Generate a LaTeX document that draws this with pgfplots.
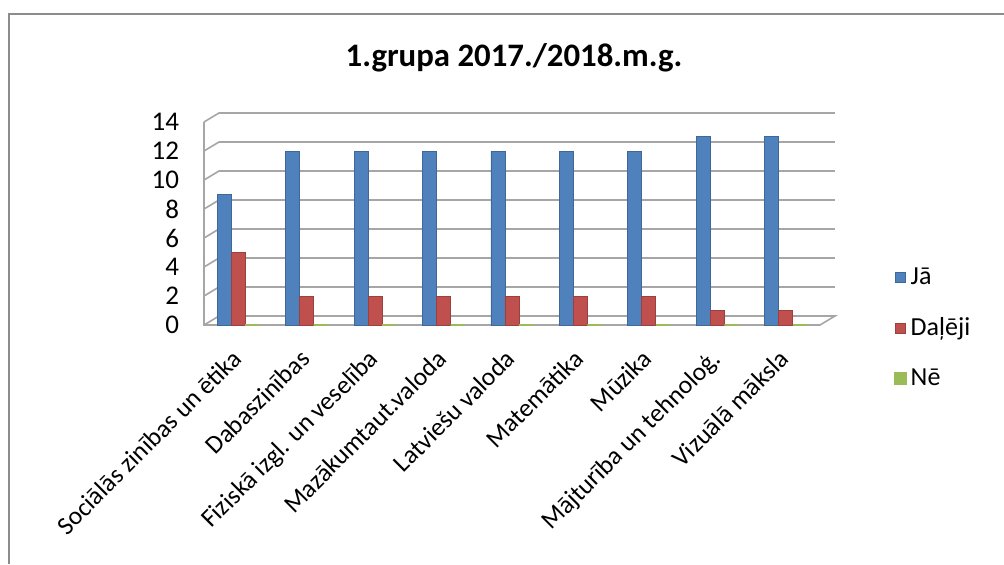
\documentclass[border=0pt]{standalone}
\usepackage{pgfplots}
\pgfplotsset{compat=1.18}
\usepackage{fontspec}
\setmainfont{Carlito}
\definecolor{ja}{HTML}{4F81BD}
\definecolor{dal}{HTML}{C0504D}
\definecolor{ne}{HTML}{9BBB59}
\tikzset{wall/.style={gray!70, line width=0.8pt}, back/.style={shift={(7.5pt,4.5pt)}}}
\begin{document}
\begin{tikzpicture}
% 1 px of the reference = 0.5pt, origin at the top left corner
\path[use as bounding box] (0,0) rectangle (502pt,-282pt);
\draw[gray!90, line width=1.2pt] (4.5pt,-282pt) -- (4.5pt,-7pt) -- (502pt,-7pt);
\node[font=\bfseries\fontsize{16.4}{18}\selectfont] at (257pt,-29pt) {1.grupa 2017./2018.m.g.};
\begin{axis}[
  at={(102pt,-162.5pt)}, anchor=south west,
  scale only axis, width=308pt, height=101.5pt,
  ymin=0, ymax=14, ytick={0,2,...,14},
  xmin=-0.5, xmax=8.5,
  xtick=data, clip=false,
  xticklabels={Sociālās zinības un ētika, Dabaszinības, Fiziskā izgl. un veselība, Mazākumtaut.valoda, Latviešu valoda, Matemātika, Mūzika, Mājturība un tehnoloģ., Vizuālā māksla},
  xticklabel style={xshift=-4pt, yshift=-6.5pt, rotate=45, anchor=north east, font=\fontsize{12.8}{14}\selectfont},
  yticklabel style={font=\fontsize{13.5}{15}\selectfont, xshift=-9pt},
  /pgf/number format/assume math mode=true,
  major tick length=0pt,
  axis line style={draw=none},
  ybar, bar width=7pt,
  legend style={draw=none, fill=none, at={(1.12,-0.015)}, anchor=west, inner xsep=0pt, inner ysep=0pt,
    font=\fontsize{13}{15}\selectfont, row sep=11pt,
    /tikz/every even column/.append style={column sep=0pt}},
  legend cell align=left,
  legend image code/.code={\fill[#1] (0pt,-2.5pt) rectangle (5pt,2.5pt);},
]
% walls of the 3-D look
\pgfplotsinvokeforeach{2,4,...,14}{
  \draw[wall] (axis cs:-0.5,#1) -- ([back]axis cs:-0.5,#1) -- ([back]axis cs:8.5,#1);
}
\draw[wall] (axis cs:-0.5,14) -- (axis cs:-0.5,0) -- (axis cs:8.5,0) -- ([back]axis cs:8.5,0) -- ([back]axis cs:-0.5,0) -- (axis cs:-0.5,0);
\addplot[fill=ja, draw=ja!80!black, bar shift=-7pt] coordinates {(0,9) (1,12) (2,12) (3,12) (4,12) (5,12) (6,12) (7,13) (8,13)};
\addlegendentry{Jā}
\addplot[fill=dal, draw=dal!80!black, bar shift=0pt] coordinates {(0,5) (1,2) (2,2) (3,2) (4,2) (5,2) (6,2) (7,1) (8,1)};
\addlegendentry{Daļēji}
\addplot[fill=ne, draw=ne, line width=1.2pt, bar shift=7pt] coordinates {(0,0) (1,0) (2,0) (3,0) (4,0) (5,0) (6,0) (7,0) (8,0)};
\addlegendentry{Nē}
\end{axis}
\end{tikzpicture}
\end{document}
